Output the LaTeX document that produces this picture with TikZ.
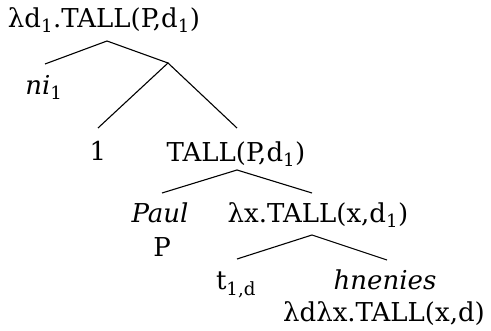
\documentclass[tikz,border=0pt]{standalone}
\usepackage{fontspec}
\setmainfont{DejaVu Serif}
\usetikzlibrary{positioning}

\begin{document}
\begin{tikzpicture}[x=1pt, y=-1pt, line width=1.1pt,
      font=\fontsize{26}{30}\selectfont,
      lbl/.style={anchor=base, inner sep=0pt}]
    \useasboundingbox (0,0) rectangle (491,331);
    % labels
    \node[lbl] (root) at (104,28) {λd\textsubscript{1}.TALL(P,d\textsubscript{1})};
    \node[lbl] (ni) at (44,95) {\textit{ni}\textsubscript{1}};
    \node[lbl] (one) at (98,161) {1};
    \node[lbl] (tallP) at (236,162) {TALL(P,d\textsubscript{1})};
    \node[lbl] (paul) at (160,223) {\textit{Paul}};
    \node[lbl] (p) at (162,257) {P};
    \node[lbl] (lamx) at (318,223) {λx.TALL(x,d\textsubscript{1})};
    \node[lbl] (trace) at (236,290) {t\textsubscript{1,d}};
    \node[lbl] (hn) at (385,290) {\textit{hnenies}};
    \node[lbl] (lamd) at (384,322) {λdλx.TALL(x,d)};
    % joints
    \coordinate (a) at (107,41);
    \coordinate (a-l) at (45,64);
    \coordinate (b) at (168,63);
    \coordinate (b-l) at (98,128);
    \coordinate (b-r) at (237,128);
    \coordinate (c) at (237,170);
    \coordinate (c-l) at (162,193);
    \coordinate (c-r) at (312,193);
    \coordinate (d) at (312,235);
    \coordinate (d-l) at (237,259);
    \coordinate (d-r) at (387,260);

    \draw (a-l) -- (a) -- (b);
    \draw (b-l) -- (b) -- (b-r);
    \draw (c-l) -- (c) -- (c-r);
    \draw (d-l) -- (d) -- (d-r);
  \end{tikzpicture}
\end{document}
